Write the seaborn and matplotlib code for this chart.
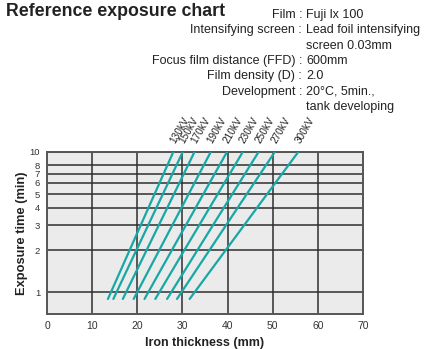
import matplotlib
matplotlib.use("Agg")
import matplotlib.pyplot as plt
import matplotlib.ticker as mticker
import numpy as np
import pandas as pd
import seaborn as sns

# Tube voltages and the iron thickness (mm) each line covers
kv_labels = ["130kV", "150kV", "170kV", "190kV", "210kV", "230kV", "250kV", "270kV", "300kV"]
thickness_low = [13.5, 14.7, 16.8, 19.2, 21.6, 24.0, 26.6, 28.8, 31.6]   # at 0.9 min
thickness_high = [28.0, 30.1, 32.7, 36.3, 39.9, 43.4, 46.9, 50.5, 55.7]  # at 10 min
exposure_range = [0.9, 10.0]

y_ticks = [1, 2, 3, 4, 5, 6, 7, 8, 10]
x_ticks = [0, 10, 20, 30, 40, 50, 60, 70]

conditions = [
    ("Film", ["Fuji lx 100"]),
    ("Intensifying screen", ["Lead foil intensifying", "screen 0.03mm"]),
    ("Focus film distance (FFD)", ["600mm"]),
    ("Film density (D)", ["2.0"]),
    ("Development", ["20°C, 5min.,", "tank developing"]),
]

rows = []
for kv, lo, hi in zip(kv_labels, thickness_low, thickness_high):
    rows.append({"kV": kv, "thickness": lo, "exposure": exposure_range[0]})
    rows.append({"kV": kv, "thickness": hi, "exposure": exposure_range[1]})
df = pd.DataFrame(rows)

sns.set_theme(style="white")
plt.rcParams["font.family"] = ["Liberation Sans", "DejaVu Sans"]

W, H = 436, 349
fig = plt.figure(figsize=(W / 100, H / 100), dpi=100)
ax = fig.add_axes([47 / W, 1 - 314.3 / H, (363 - 47) / W, (314.3 - 151.7) / H])
ax.set_facecolor("#ebebeb")

line_color = "#17a8a6"
sns.lineplot(data=df, x="thickness", y="exposure", hue="kV",
             palette=[line_color] * len(kv_labels), legend=False,
             linewidth=1.6, ax=ax, zorder=3)

ax.set_yscale("log")
ax.set_xlim(0, 70)
ax.set_ylim(0.7, 10)
ax.set_xticks(x_ticks)
ax.xaxis.set_major_formatter(mticker.FormatStrFormatter("%d"))
ax.yaxis.set_major_locator(mticker.FixedLocator(y_ticks))
ax.yaxis.set_major_formatter(mticker.FixedFormatter([str(t) for t in y_ticks]))
ax.yaxis.set_minor_locator(mticker.NullLocator())
ax.tick_params(axis="x", length=0, labelsize=7.5, labelcolor="#333333", pad=5)
ax.tick_params(axis="y", length=0, labelsize=6.8, labelcolor="#333333", pad=5)

for t in y_ticks:
    ax.axhline(t, color="#2e2e2e", lw=1.1, zorder=1)
for t in x_ticks[1:-1]:
    ax.axvline(t, color="#2e2e2e", lw=1.1, zorder=1)
for s in ax.spines.values():
    s.set_color("#555555")
    s.set_linewidth(1.4)

ax.set_xlabel("Iron thickness (mm)", fontsize=9, fontweight="bold", color="#222222", labelpad=4)
ax.set_ylabel("Exposure time (min)", fontsize=9.3, fontweight="bold", color="#222222", labelpad=1)

# Voltage labels above the top end of each line
for kv, hi in zip(kv_labels, thickness_high):
    ax.annotate(kv, xy=(hi, 10), xytext=(2.5, 5), textcoords="offset points",
                rotation=60, rotation_mode="anchor", ha="left", va="bottom",
                fontsize=7.2, color="#222222", annotation_clip=False)

# Title and exposure conditions
fig.text(6 / W, 1 - 3 / H, "Reference exposure chart", fontsize=12.8, fontweight="bold",
         color="#222222", ha="left", va="top")
y = 15
for label, values in conditions:
    fig.text(302 / W, 1 - y / H, f"{label} :", fontsize=9.0, color="#222222",
             ha="right", va="center")
    for v in values:
        fig.text(306 / W, 1 - y / H, v, fontsize=9.0, color="#222222",
                 ha="left", va="center")
        y += 15.3

fig.savefig("out.png", dpi=100)
